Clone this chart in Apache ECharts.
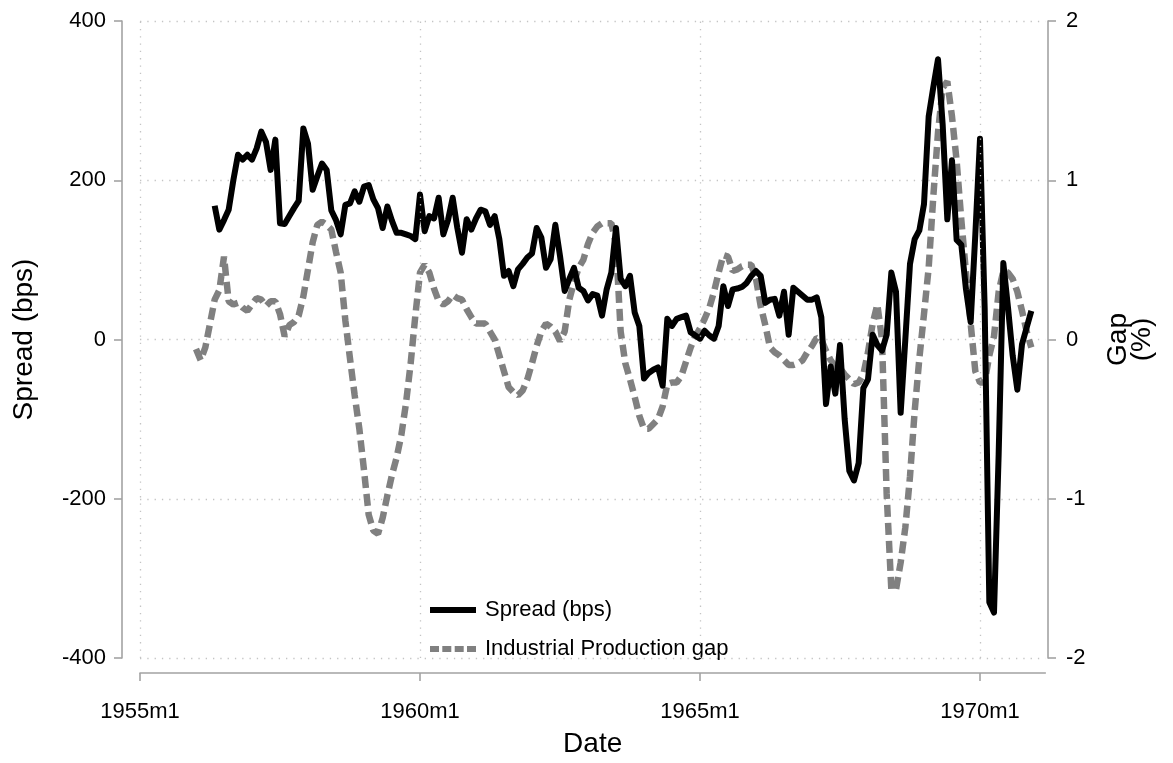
<!DOCTYPE html>
<html><head><meta charset="utf-8">
<script src="https://cdn.jsdelivr.net/npm/echarts@6/dist/echarts.min.js"></script>
<style>html,body{margin:0;padding:0;background:#fff}#c{width:1173px;height:763px}</style>
</head><body><div id="c"></div>
<script>
// months counted from 1955m1 (= 0)
const spreadStartMonth = 16; // 1956m5
const spreadBps = [
  168,138,150,163,200,232,226,232,226,240,
  261,248,213,251,146,145,155,165,174,265,
  246,188,205,221,213,162,150,132,169,171,
  186,173,192,194,176,165,140,167,149,134,
  134,132,130,126,182,136,155,152,178,132,
  150,178,140,109,151,138,152,163,161,144,
  155,126,80,86,67,88,95,103,108,140,
  128,90,101,144,105,61,76,90,65,61,
  49,57,55,30,63,84,140,76,67,80,
  34,17,-49,-42,-38,-35,-58,26,17,26,
  28,30,9,5,1,11,5,1,17,67,
  42,63,64,66,71,80,86,80,46,50,
  51,30,60,6,65,60,55,50,50,53,
  28,-81,-34,-68,-7,-100,-165,-177,-155,-61,
  -50,6,-7,-14,6,84,60,-92,0,95,
  126,137,170,280,317,352,270,151,225,125,
  119,63,22,132,252,40,-330,-343,-144,96,
  40,-20,-63,-6,15,36
];
const gapStartMonth = 12; // 1956m1
const ipGapPct = [
  -0.06,-0.13,-0.05,0.1,0.25,0.31,0.52,0.24,0.22,0.23,
  0.2,0.18,0.22,0.26,0.25,0.21,0.24,0.24,0.16,0.02,
  0.09,0.11,0.15,0.27,0.44,0.61,0.72,0.74,0.72,0.69,
  0.55,0.42,0.12,-0.12,-0.35,-0.56,-0.82,-1.1,-1.2,-1.22,
  -1.12,-0.98,-0.85,-0.74,-0.6,-0.4,-0.15,0.15,0.42,0.47,
  0.42,0.32,0.24,0.22,0.24,0.28,0.26,0.25,0.19,0.14,
  0.1,0.1,0.1,0.05,0.0,-0.1,-0.2,-0.3,-0.33,-0.35,
  -0.32,-0.25,-0.15,-0.04,0.05,0.1,0.08,0.05,-0.01,0.05,
  0.25,0.36,0.45,0.5,0.6,0.67,0.71,0.73,0.73,0.73,
  0.6,0.05,-0.15,-0.25,-0.36,-0.48,-0.56,-0.56,-0.53,-0.5,
  -0.42,-0.28,-0.27,-0.27,-0.23,-0.14,-0.05,0.02,0.07,0.13,
  0.2,0.3,0.42,0.53,0.52,0.43,0.44,0.46,0.47,0.47,
  0.38,0.21,0.09,-0.05,-0.08,-0.1,-0.13,-0.16,-0.16,-0.15,
  -0.13,-0.08,-0.04,0.01,0.0,-0.07,-0.13,-0.17,-0.18,-0.22,
  -0.25,-0.28,-0.27,-0.22,-0.08,0.1,0.22,0.0,-0.97,-1.57,
  -1.57,-1.4,-1.18,-0.86,-0.45,-0.12,0.16,0.45,0.9,1.3,
  1.58,1.62,1.4,1.12,0.75,0.42,0.1,-0.2,-0.27,-0.27,
  -0.1,0.02,0.3,0.43,0.42,0.38,0.3,0.18,0.05,-0.05
];
const xTickValues = [0, 60, 120, 180];
const xTickLabels = ['1955m1', '1960m1', '1965m1', '1970m1'];
const xMin = 0, xMax = 194;
const leftMin = -400, leftMax = 400, leftStep = 200;
const rightMin = -2, rightMax = 2, rightStep = 1;

const FONT = 'Liberation Sans, Arial, sans-serif';
const AX = '#a3a3a3';
const GRIDC = '#c4c4c4';
const spreadData = spreadBps.map((v, i) => [spreadStartMonth + i, v]);
const gapData = ipGapPct.map((v, i) => [gapStartMonth + i, v]);

const chart = echarts.init(document.getElementById('c'), null, {renderer: 'canvas'});
chart.setOption({
  animation: false,
  backgroundColor: '#fff',
  textStyle: {fontFamily: FONT},
  grid: {left: 140, right: 127.67, top: 21, bottom: 103, containLabel: false},
  legend: {
    data: [
      {name: 'Spread (bps)', icon: 'path://M0,0H46V6H0Z'},
      {name: 'Industrial Production gap', icon: 'path://M0,0H9V6H0Z M12.3,0H21.3V6H12.3Z M24.7,0H33.7V6H24.7Z M37,0H46V6H37Z'}
    ],
    orient: 'vertical', left: 425, top: 594,
    itemWidth: 46, itemHeight: 6, itemGap: 17,
    textStyle: {fontFamily: FONT, fontSize: 22, color: '#000', padding: [0, 0, 0, 4]}
  },
  xAxis: {
    type: 'value', min: xMin, max: xMax, offset: 15,
    name: 'Date', nameLocation: 'middle', nameGap: 57,
    nameTextStyle: {fontFamily: FONT, fontSize: 28, color: '#000'},
    axisLine: {onZero: false, lineStyle: {color: AX, width: 1.6}},
    axisTick: {show: true, length: 8, customValues: xTickValues, lineStyle: {color: AX, width: 1.6}},
    axisLabel: {customValues: xTickValues, margin: 28, fontFamily: FONT, fontSize: 22, color: '#000',
      formatter: v => { const k = xTickValues.indexOf(v); return k >= 0 ? xTickLabels[k] : ''; }},
    splitLine: {show: false}
  },
  yAxis: [{
    type: 'value', position: 'left', offset: 18, min: leftMin, max: leftMax, interval: leftStep,
    name: 'Spread (bps)', nameLocation: 'middle', nameGap: 84, nameRotate: 90,
    nameTextStyle: {fontFamily: FONT, fontSize: 28, color: '#000'},
    axisLine: {show: true, onZero: false, lineStyle: {color: AX, width: 1.6}},
    axisTick: {show: true, length: 8, lineStyle: {color: AX, width: 1.6}},
    axisLabel: {margin: 16, fontFamily: FONT, fontSize: 22, color: '#000'},
    splitLine: {show: true, lineStyle: {color: GRIDC, width: 1.3, type: [1.3, 6]}}
  }, {
    type: 'value', position: 'right', offset: 2.67, min: rightMin, max: rightMax, interval: rightStep,
    name: 'Gap\n(%)', nameLocation: 'middle', nameGap: 58, nameRotate: 90,
    nameTextStyle: {fontFamily: FONT, fontSize: 28, color: '#000', lineHeight: 24, align: 'center'},
    axisLine: {show: true, onZero: false, lineStyle: {color: AX, width: 1.6}},
    axisTick: {show: true, length: 8, lineStyle: {color: AX, width: 1.6}},
    axisLabel: {margin: 18, fontFamily: FONT, fontSize: 22, color: '#000'},
    splitLine: {show: false}
  }],
  series: [{
    name: 'gridX', type: 'line', data: [], silent: true, z: 0,
    markLine: {
      silent: true, symbol: 'none', label: {show: false},
      lineStyle: {color: GRIDC, width: 1.3, type: [1.3, 6]},
      data: xTickValues.map(v => ({xAxis: v}))
    }
  }, {
    name: 'Industrial Production gap', type: 'line', yAxisIndex: 1, data: gapData,
    showSymbol: false, symbol: 'none', smooth: false, z: 3,
    lineStyle: {color: '#808080', width: 6.5, type: [12, 6], cap: 'butt'},
    itemStyle: {color: '#808080'}
  }, {
    name: 'Spread (bps)', type: 'line', yAxisIndex: 0, data: spreadData,
    showSymbol: false, symbol: 'none', smooth: false, z: 4,
    lineStyle: {color: '#000', width: 6, join: 'round'},
    itemStyle: {color: '#000'}
  }]
});
</script>
</body></html>
